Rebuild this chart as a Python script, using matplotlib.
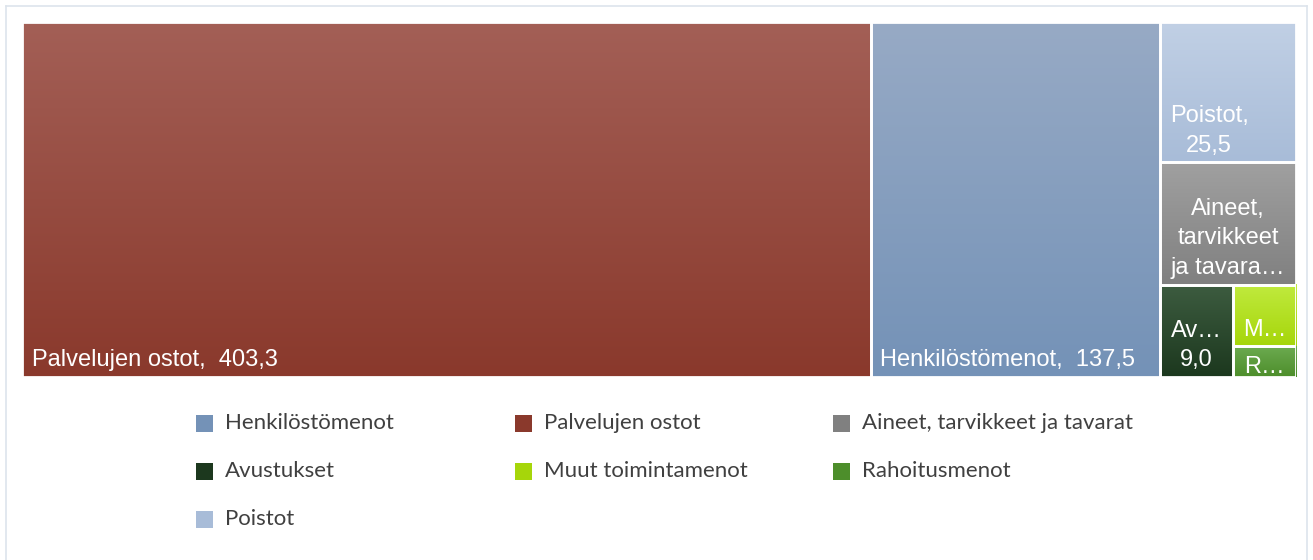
import matplotlib
matplotlib.use("Agg")
import matplotlib.pyplot as plt
import numpy as np
from matplotlib.patches import Rectangle
from matplotlib.colors import to_rgb

# data (M€)
names = ["Palvelujen ostot", "Henkilöstömenot", "Poistot",
         "Aineet, tarvikkeet ja tavarat", "Avustukset",
         "Muut toimintamenot", "Rahoitusmenot"]
values = [403.3, 137.5, 25.5, 22.3, 9.0, 5.2, 2.6]
# labels as shown inside the boxes (truncated by the box size)
box_labels = ["Palvelujen ostot,  403,3", "Henkilöstömenot,  137,5",
              "Poistot,\n25,5", "Aineet,\ntarvikkeet\nja tavara…",
              "Av…\n9,0", "M…", "R…"]
label_align = ["left", "left", "left", "center", "center", "center", "center"]
top_colors = ["#a35f56", "#97aac5", "#c1d0e5", "#a0a0a0", "#3d5c40", "#c0ea3e", "#6caa50"]
bot_colors = ["#8a392c", "#7492b7", "#a8bcd8", "#808080", "#1c381e", "#a6d60a", "#4d8e2b"]

# legend order (row by row, 3 columns)
legend_order = ["Henkilöstömenot", "Palvelujen ostot", "Aineet, tarvikkeet ja tavarat",
                "Avustukset", "Muut toimintamenot", "Rahoitusmenot", "Poistot"]


def worst(row, side):
    s = sum(row)
    return max(max(side * side * r / (s * s), s * s / (side * side * r)) for r in row)


def squarify(vals, x, y, w, h):
    total = sum(vals)
    areas = [v * w * h / total for v in vals]
    rects = []
    i = 0
    while i < len(areas):
        side = min(w, h)
        row = [areas[i]]
        i += 1
        while i < len(areas) and worst(row + [areas[i]], side) <= worst(row, side):
            row.append(areas[i])
            i += 1
        s = sum(row)
        if w >= h:
            cw = s / h
            yy = y
            for r in row:
                rects.append((x, yy, cw, r / cw))
                yy += r / cw
            x += cw
            w -= cw
        else:
            rh = s / w
            xx = x
            for r in row:
                rects.append((xx, y, r / rh, rh))
                xx += r / rh
            y += rh
            h -= rh
    return rects


W, H = 1313, 560
fig = plt.figure(figsize=(W / 100, H / 100), dpi=100)
fig.patch.set_facecolor("white")

# treemap area
tw, th = 1274, 355
ax = fig.add_axes([22 / W, 1 - 377 / H, tw / W, th / H])
rects = squarify(values, 0, 0, tw, th)

for (x, y, w, h), c0, c1, lab, al in zip(rects, top_colors, bot_colors, box_labels, label_align):
    grad = np.linspace(to_rgb(c0), to_rgb(c1), 64).reshape(64, 1, 3)
    ax.imshow(grad, extent=(x, x + w, y + h, y), aspect="auto", interpolation="bilinear")
    ax.add_patch(Rectangle((x, y), w, h, facecolor="none", edgecolor="white", lw=2))
    pad_y = 4 if h > 40 else -1
    if al == "left":
        xy, dx = (x, y + h), 7
    else:
        xy, dx = (x + w / 2, y + h), 0
    ax.annotate(lab, xy, xytext=(dx, pad_y), textcoords="offset points",
                ha=al, va="bottom", multialignment="center", color="white",
                fontsize=17, family=["Liberation Sans", "DejaVu Sans"], linespacing=1.45)

ax.set_xlim(0, tw)
ax.set_ylim(th, 0)
ax.axis("off")

# legend
col_by_name = dict(zip(names, bot_colors))
for k, nm in enumerate(legend_order):
    row, col = divmod(k, 3)
    mx = 196 + col * 318.5
    my = 423 + row * 48
    fig.patches.append(Rectangle((mx / W, 1 - (my + 8.5) / H), 17 / W, 17 / H,
                                 transform=fig.transFigure, facecolor=col_by_name[nm],
                                 edgecolor="none"))
    fig.text((mx + 29) / W, 1 - my / H, nm, ha="left", va="center",
             fontsize=16, color="#404040", family=["Lato", "DejaVu Sans"])

# outer frame
frame_c = "#dde4ec"
fig.add_artist(plt.Line2D([6 / W, 6 / W], [0, 1 - 6 / H], color=frame_c, lw=1.2))
fig.add_artist(plt.Line2D([6 / W, 1307 / W], [1 - 6 / H, 1 - 6 / H], color=frame_c, lw=1.2))
fig.add_artist(plt.Line2D([1307 / W, 1307 / W], [0, 1 - 6 / H], color=frame_c, lw=1.2))

fig.savefig("out.png", dpi=100)
